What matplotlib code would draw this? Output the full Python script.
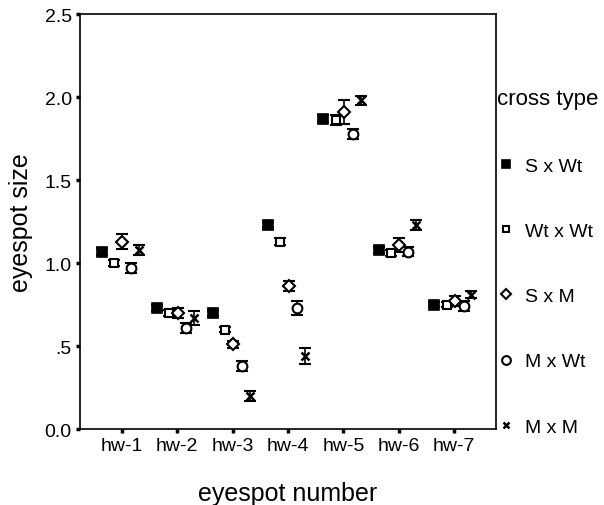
import numpy as np
import matplotlib
matplotlib.use("Agg")
import matplotlib.pyplot as plt

plt.rcParams['font.family'] = ['Liberation Sans', 'DejaVu Sans']

categories = ['hw-1', 'hw-2', 'hw-3', 'hw-4', 'hw-5', 'hw-6', 'hw-7']
cross_types = ['S x Wt', 'Wt x Wt', 'S x M', 'M x Wt', 'M x M']

# means per cross type (eyespot hw-1 .. hw-7)
s_wt = [1.07, 0.73, 0.70, 1.23, 1.87, 1.08, 0.75]
wt_wt = [1.00, 0.70, 0.60, 1.13, 1.86, 1.06, 0.75]
s_m = [1.13, 0.70, 0.51, 0.86, 1.91, 1.11, 0.77]
m_wt = [0.97, 0.61, 0.38, 0.73, 1.78, 1.07, 0.74]
m_m = [1.08, 0.67, 0.20, 0.44, 1.98, 1.23, 0.81]

# standard errors
s_wt_err = [0.02, 0.02, 0.02, 0.02, 0.02, 0.02, 0.015]
wt_wt_err = [0.02, 0.02, 0.015, 0.02, 0.03, 0.02, 0.015]
s_m_err = [0.045, 0.03, 0.02, 0.03, 0.07, 0.04, 0.03]
m_wt_err = [0.03, 0.03, 0.03, 0.04, 0.03, 0.03, 0.03]
m_m_err = [0.03, 0.04, 0.03, 0.05, 0.03, 0.03, 0.02]

means = [s_wt, wt_wt, s_m, m_wt, m_m]
errs = [s_wt_err, wt_wt_err, s_m_err, m_wt_err, m_m_err]

offsets = [-0.36, -0.14, 0.01, 0.17, 0.31]
styles = [
    dict(marker='s', ms=7, mfc='black', mec='black', mew=1.2),
    dict(marker='s', ms=5.5, mfc='white', mec='black', mew=1.5),
    dict(marker='D', ms=6, mfc='white', mec='black', mew=1.5),
    dict(marker='o', ms=7, mfc='white', mec='black', mew=1.5),
    dict(marker='x', ms=5.5, mfc='black', mec='black', mew=1.8),
]

fig = plt.figure(figsize=(6.04, 5.06), dpi=100)
ax = fig.add_axes([0.1325, 0.150, 0.6885, 0.820])

x = np.arange(len(categories))
handles = []
for i in range(len(cross_types)):
    xi = x + offsets[i]
    ax.errorbar(xi, means[i], yerr=errs[i], fmt='none', ecolor='black',
                elinewidth=1.2, capsize=4, capthick=1.5, zorder=2)
    h, = ax.plot(xi, means[i], linestyle='none', zorder=3, **styles[i])
    handles.append(h)

ax.set_xlim(-0.75, 6.75)
ax.set_ylim(0, 2.5)
ax.set_xticks(x)
ax.set_xticklabels(categories, fontsize=14)
ax.set_yticks([0, 0.5, 1.0, 1.5, 2.0, 2.5])
ax.set_yticklabels(['0.0', '.5', '1.0', '1.5', '2.0', '2.5'], fontsize=14)
ax.tick_params(direction='out', length=3, width=2.5, color='black', pad=3)
for sp in ax.spines.values():
    sp.set_linewidth(1.2)

ax.set_xlabel('eyespot number', fontsize=18, labelpad=19)
ax.set_ylabel('eyespot size', fontsize=18, labelpad=8)

leg = ax.legend(handles, cross_types, title='cross type', loc='upper left',
                bbox_to_anchor=(0.985, 0.84), frameon=False, fontsize=14,
                title_fontsize=16, labelspacing=2.45, handletextpad=0.5,
                handlelength=0.9, markerscale=0.9, borderaxespad=0)
leg._legend_box.align = 'left'

fig.savefig('out.png', dpi=100)
